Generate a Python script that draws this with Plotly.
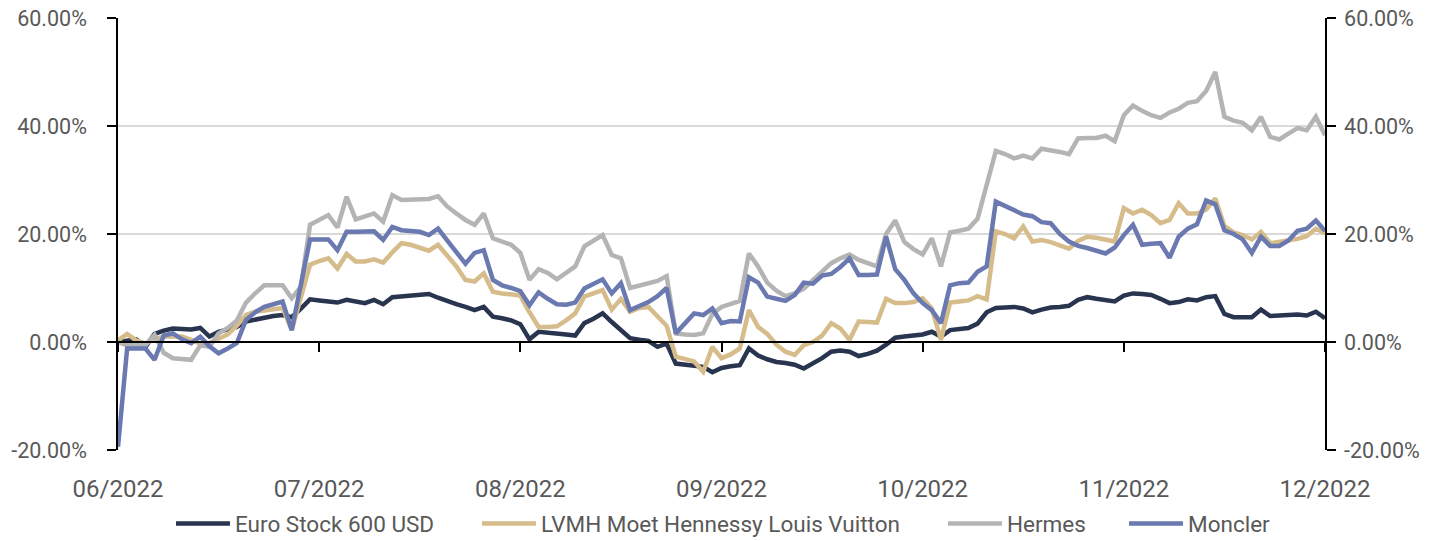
import pandas as pd
import plotly.graph_objects as go

# ---- data (percent performance since 06/2022) ----
dates = pd.bdate_range("2022-06-01", periods=133)
idx = list(range(len(dates)))

euro_stoxx = [0.0, 0.3, 0.5, -0.9, 1.5, 2.1, 2.5, 2.4, 2.3, 2.6, 1.0, 1.9, 2.3, 2.8, 3.8, 4.2, 4.6, 4.8, 5.0, 4.6,
              6.2, 7.9, 7.7, 7.4, 7.3, 7.8, 7.5, 7.2, 7.8, 7.0, 8.3, 8.4, 8.5, 8.7, 8.9, 8.2, 7.5, 7.0, 6.5, 5.9,
              6.5, 4.7, 4.4, 4.0, 3.3, 0.5, 1.9, 1.8, 1.7, 1.4, 1.2, 3.5, 4.3, 5.3, 3.7, 2.3, 0.7, 0.4, 0.2, -0.9,
              -0.3, -4.0, -4.2, -4.3, -4.6, -5.6, -4.8, -4.5, -4.3, -1.2, -2.5, -3.2, -3.7, -3.9, -4.2, -4.9, -4.0, -3.0, -1.8, -1.6,
              -1.8, -2.6, -2.2, -1.6, -0.5, 0.8, 1.0, 1.2, 1.4, 1.9, 1.0, 2.2, 2.4, 2.6, 3.4, 5.5, 6.3, 6.5, 6.5, 6.2,
              5.5, 6.0, 6.4, 6.5, 6.7, 7.8, 8.3, 8.0, 7.8, 7.5, 8.6, 9.0, 8.9, 8.7, 8.0, 7.2, 7.4, 7.9, 7.7, 8.3,
              8.5, 5.2, 4.6, 4.6, 4.6, 6.0, 4.8, 4.9, 5.0, 5.1, 4.9, 5.6, 4.4]

lvmh = [0.3, 1.5, 0.3, -0.3, 0.5, 1.0, 1.0, 1.0, 0.4, -0.3, -0.2, 0.6, 1.4, 3.0, 5.0, 5.6, 5.8, 6.0, 6.3, 2.2,
        8.5, 14.3, 15.0, 15.5, 13.6, 16.3, 14.9, 14.9, 15.3, 14.7, 16.6, 18.3, 18.0, 17.5, 16.9, 18.0, 16.0, 14.0, 11.5, 11.2,
        12.7, 9.3, 9.0, 8.9, 8.6, 5.5, 2.8, 2.8, 2.9, 4.0, 5.3, 8.4, 8.9, 9.6, 6.0, 8.0, 5.6, 6.3, 6.5, 4.7,
        3.0, -2.7, -3.2, -3.6, -5.5, -0.9, -3.0, -2.3, -1.2, 5.9, 2.8, 1.5, -0.5, -1.8, -2.4, -0.6, 0.0, 1.2, 3.5, 2.5,
        0.4, 3.8, 3.7, 3.6, 8.0, 7.2, 7.2, 7.4, 8.1, 6.2, 0.4, 7.3, 7.5, 7.7, 8.5, 7.9, 20.5, 20.0, 19.2, 21.4,
        18.6, 18.9, 18.5, 18.0, 17.3, 18.7, 19.5, 19.3, 18.9, 18.6, 24.8, 23.8, 24.5, 23.5, 22.0, 22.6, 25.7, 23.8, 23.8, 24.5,
        26.6, 21.5, 20.3, 19.8, 19.0, 20.4, 18.3, 18.5, 18.8, 19.1, 19.6, 21.0, 20.1]

hermes = [0.0, -0.6, -0.6, -0.6, 1.3, -2.0, -3.0, -3.2, -3.3, -0.6, -0.9, 1.6, 2.6, 4.0, 7.3, 9.0, 10.5, 10.5, 10.5, 8.1,
          10.2, 21.7, 22.5, 23.5, 21.2, 26.9, 22.7, 23.2, 23.8, 22.3, 27.2, 26.3, 26.3, 26.3, 26.5, 27.0, 25.1, 23.8, 22.6, 21.7,
          23.8, 19.2, 18.6, 18.0, 16.5, 11.5, 13.5, 12.8, 11.6, 12.7, 14.0, 17.7, 18.8, 19.8, 16.1, 15.5, 10.0, 10.4, 11.0, 11.3,
          12.2, 1.6, 1.4, 1.3, 1.6, 5.2, 6.5, 7.0, 7.6, 16.4, 14.0, 11.0, 9.5, 8.5, 9.0, 9.9, 11.5, 13.2, 14.6, 15.5,
          16.2, 15.2, 14.6, 14.0, 20.0, 22.5, 18.5, 17.2, 16.2, 19.2, 14.0, 20.3, 20.6, 21.0, 22.8, 29.0, 35.4, 34.8, 34.0, 34.5,
          34.0, 35.8, 35.6, 35.2, 34.8, 37.7, 37.8, 37.8, 38.2, 37.2, 42.0, 43.8, 42.8, 42.0, 41.5, 42.5, 43.2, 44.3, 44.6, 46.5,
          50.0, 41.7, 41.0, 40.6, 39.2, 41.7, 38.0, 37.5, 38.6, 39.6, 39.2, 41.7, 38.3]

moncler = [-19.4, -1.2, -1.2, -1.2, -3.3, 1.2, 1.6, 0.5, -0.2, 1.0, -0.8, -2.1, -1.2, -0.2, 4.1, 5.5, 6.5, 7.0, 7.5, 2.2,
           10.5, 19.0, 19.0, 19.0, 17.0, 20.4, 20.4, 20.5, 20.5, 18.9, 21.3, 20.7, 20.5, 20.4, 19.8, 21.0, 18.8, 16.5, 14.5, 16.5,
           17.0, 11.5, 10.5, 10.0, 9.4, 6.8, 9.2, 8.0, 7.0, 6.9, 7.3, 9.9, 10.8, 11.6, 9.0, 10.9, 5.9, 6.6, 7.4, 8.5,
           10.0, 1.6, 3.4, 5.3, 5.0, 6.2, 3.5, 3.9, 3.8, 12.0, 11.0, 8.4, 8.0, 7.6, 8.7, 11.0, 10.8, 12.3, 12.6, 13.9,
           15.5, 12.4, 12.4, 12.5, 19.5, 13.5, 11.5, 9.0, 7.2, 5.9, 3.5, 10.5, 10.9, 11.0, 13.0, 14.0, 26.0, 25.2, 24.4, 23.6,
           23.3, 22.2, 22.0, 20.0, 18.6, 17.8, 17.4, 17.0, 16.4, 17.5, 19.8, 21.7, 18.0, 18.2, 18.3, 15.6, 19.5, 21.0, 21.8, 26.2,
           25.5, 20.7, 20.0, 19.0, 16.5, 19.5, 17.8, 17.8, 18.8, 20.6, 21.0, 22.5, 20.6]

series_names = ["Euro Stock 600 USD", "LVMH Moet Hennessy Louis Vuitton", "Hermes", "Moncler"]
series_values = [euro_stoxx, lvmh, hermes, moncler]
series_colors = ["#29344F", "#D6BC8A", "#B4B4B4", "#6A79B0"]

y_ticks = [-20, 0, 20, 40, 60]
y_ticktext = ["-20.00%", "0.00%", "20.00%", "40.00%", "60.00%"]
x_tickvals = list(range(0, 133, 22))
x_ticktext = [dates[i].strftime("%m/%Y") for i in x_tickvals]

FONT = "Roboto, Liberation Sans, sans-serif"
TXT = "#595959"

# legend slot positions (paper fraction of plot width)
legend_ids = ["legend", "legend2", "legend3", "legend4"]
legend_x = [0.0439, 0.2974, 0.6835, 0.8335]

fig = go.Figure()
for name, vals, col, lid in zip(series_names, series_values, series_colors, legend_ids):
    fig.add_trace(go.Scatter(x=idx, y=vals, mode="lines", name=name, legend=lid,
                             line=dict(color=col, width=4.5)))
# helper trace to host the secondary (right) axis
fig.add_trace(go.Scatter(x=[None], y=[None], yaxis="y2", showlegend=False, hoverinfo="skip"))

legend_common = dict(orientation="h", yanchor="middle", y=-0.171, xanchor="left",
                     font=dict(size=22.5, color=TXT, family=FONT), itemwidth=54,
                     bgcolor="rgba(0,0,0,0)", borderwidth=0)
legends = {lid: dict(legend_common, x=lx) for lid, lx in zip(legend_ids, legend_x)}

fig.update_layout(
    width=1453, height=541,
    margin=dict(l=118, r=128, t=18, b=91, autoexpand=False),
    paper_bgcolor="white", plot_bgcolor="white",
    font=dict(family=FONT, color=TXT),
    showlegend=True,
    xaxis=dict(range=[0, 132], tickmode="array", tickvals=x_tickvals, ticktext=x_ticktext,
               showgrid=False, zeroline=False, showline=True, linecolor="black", linewidth=2,
               ticks="outside", ticklen=9, tickwidth=1.5, tickcolor="black",
               anchor="free", position=0.25, tickfont=dict(size=24, color=TXT),
               ticklabelstandoff=116, ticklabeloverflow="allow"),
    yaxis=dict(range=[-20, 60], tickmode="array", tickvals=y_ticks, ticktext=y_ticktext,
               showgrid=True, gridcolor="#D9D9D9", gridwidth=1.5, zeroline=False,
               showline=True, linecolor="black", linewidth=1.5,
               ticks="outside", ticklen=9, tickwidth=1.5, tickcolor="black",
               tickfont=dict(size=21.5, color=TXT), ticklabelstandoff=16, domain=[0, 1],
               ticklabeloverflow="allow"),
    yaxis2=dict(range=[-20, 60], tickmode="array", tickvals=y_ticks, ticktext=y_ticktext,
                overlaying="y", side="right", anchor="x",
                showgrid=False, zeroline=False,
                showline=True, linecolor="black", linewidth=1.5,
                ticks="outside", ticklen=9, tickwidth=1.5, tickcolor="black",
                tickfont=dict(size=21.5, color=TXT), ticklabelstandoff=4,
                ticklabeloverflow="allow"),
    **legends,
)

# remove the default page margin so the figure sits at the window's top-left corner
fig.write_html("out.html",
               config={"displayModeBar": False},
               post_script="document.body.style.margin='0';document.body.style.padding='0';")
